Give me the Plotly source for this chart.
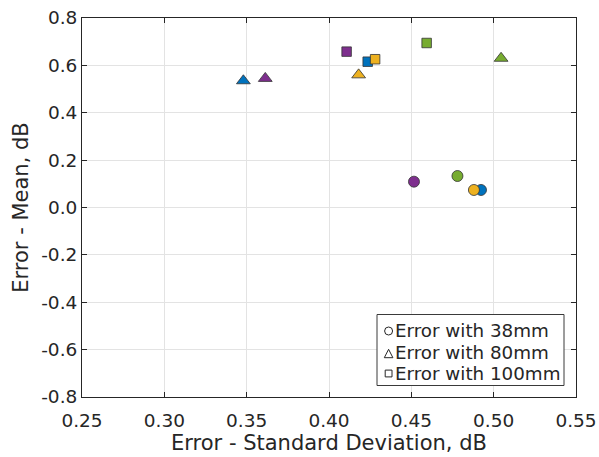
import plotly.graph_objects as go

# Four measurement sets (colour), three spacings (marker shape)
set_colors = ["#0072BD", "#EDB120", "#7E2F8E", "#77AC30"]

spacings = ["38mm", "80mm", "100mm"]
symbols = ["circle", "triangle-up", "square"]

# Standard deviation / mean of the error, per set, for each spacing
sd_38mm = [0.4923, 0.4880, 0.4516, 0.4780]
mean_38mm = [0.074, 0.074, 0.109, 0.133]

sd_80mm = [0.348, 0.418, 0.3613, 0.5045]
mean_80mm = [0.535, 0.560, 0.545, 0.630]

sd_100mm = [0.4235, 0.428, 0.4107, 0.4593]
mean_100mm = [0.6155, 0.626, 0.658, 0.6945]

sd_all = [sd_38mm, sd_80mm, sd_100mm]
mean_all = [mean_38mm, mean_80mm, mean_100mm]

x_ticks = [0.25, 0.30, 0.35, 0.40, 0.45, 0.50, 0.55]
y_ticks = [-0.8, -0.6, -0.4, -0.2, 0.0, 0.2, 0.4, 0.6, 0.8]

FONT = "DejaVu Sans, sans-serif"
AXIS_COLOR = "#262626"

W, H = 599, 457
M_L, M_R, M_T, M_B = 82, 23, 18, 60
PLOT_W, PLOT_H = W - M_L - M_R, H - M_T - M_B


def px_x(px):
    """Horizontal pixel position -> paper coordinate."""
    return (px - M_L) / PLOT_W


def px_y(py):
    """Vertical pixel position (from top) -> paper coordinate."""
    return (H - M_B - py) / PLOT_H


fig = go.Figure()

sizes = [11, 12, 9.5]
for sp, sym, sz, xs, ys in zip(spacings, symbols, sizes, sd_all, mean_all):
    fig.add_trace(go.Scatter(
        x=xs, y=ys, mode="markers", name=f"Error with {sp}", showlegend=False,
        marker=dict(symbol=sym, size=sz, color=set_colors,
                    line=dict(color="#333333", width=0.8)),
        hoverinfo="x+y+name",
    ))

# ---- legend box (bottom right): hollow shape key + label per spacing ----
box = dict(left=377, right=564, top=314.5, bottom=385.5)
row_y = [331, 353, 374.5]
key_x = 388.6
text_x = 393

shapes = [dict(type="rect", xref="paper", yref="paper",
               x0=px_x(box["left"]), x1=px_x(box["right"]),
               y0=px_y(box["bottom"]), y1=px_y(box["top"]),
               line=dict(color="#3a3a3a", width=1), fillcolor="white",
               layer="above")]

key_line = dict(color="#262626", width=1)
# circle key
r = 4.0
shapes.append(dict(type="circle", xref="paper", yref="paper",
                   x0=px_x(key_x - r), x1=px_x(key_x + r),
                   y0=px_y(row_y[0] + r), y1=px_y(row_y[0] - r),
                   line=key_line, layer="above"))
# triangle key
hw, hh = 4.3, 4.2
cy = row_y[1] + 0.5
tri = (f"M {px_x(key_x - hw)} {px_y(cy + hh)} "
       f"L {px_x(key_x + hw)} {px_y(cy + hh)} "
       f"L {px_x(key_x)} {px_y(cy - hh)} Z")
shapes.append(dict(type="path", xref="paper", yref="paper", path=tri,
                   line=key_line, layer="above"))
# square key
s = 3.4
shapes.append(dict(type="rect", xref="paper", yref="paper",
                   x0=px_x(key_x - s), x1=px_x(key_x + s),
                   y0=px_y(row_y[2] - 1 + s), y1=px_y(row_y[2] - 1 - s),
                   line=key_line, layer="above"))

for sp, ry in zip(spacings, row_y):
    fig.add_annotation(
        xref="paper", yref="paper", x=px_x(text_x), y=px_y(ry - 1),
        xanchor="left", yanchor="middle", showarrow=False,
        text=f"Error with {sp}",
        font=dict(family=FONT, size=18.3, color=AXIS_COLOR),
    )

axis_common = dict(
    showline=True, linecolor=AXIS_COLOR, linewidth=1, mirror="ticks",
    ticks="inside", ticklen=5, tickcolor=AXIS_COLOR,
    showgrid=True, gridcolor="#e3e3e3", gridwidth=1, zeroline=False,
    tickfont=dict(family=FONT, size=18.5, color=AXIS_COLOR),
    automargin=False,
)

fig.update_layout(
    width=W, height=H,
    margin=dict(l=M_L, r=M_R, t=M_T, b=M_B),
    paper_bgcolor="white", plot_bgcolor="white",
    font=dict(family=FONT, color=AXIS_COLOR),
    showlegend=False,
    shapes=shapes,
    xaxis=dict(range=[0.25, 0.55], tickmode="array", tickvals=x_ticks,
               ticktext=[f"{v:.2f}" for v in x_ticks], ticklabelstandoff=7,
               title=dict(text="Error - Standard Deviation, dB",
                          font=dict(family=FONT, size=21, color=AXIS_COLOR),
                          standoff=2),
               **axis_common),
    yaxis=dict(range=[-0.8, 0.8], tickmode="array", tickvals=y_ticks,
               ticktext=[f"{v:.1f}" for v in y_ticks],
               title=dict(text="Error - Mean, dB",
                          font=dict(family=FONT, size=21, color=AXIS_COLOR),
                          standoff=6),
               **axis_common),
)

fig.write_html("out.html")
